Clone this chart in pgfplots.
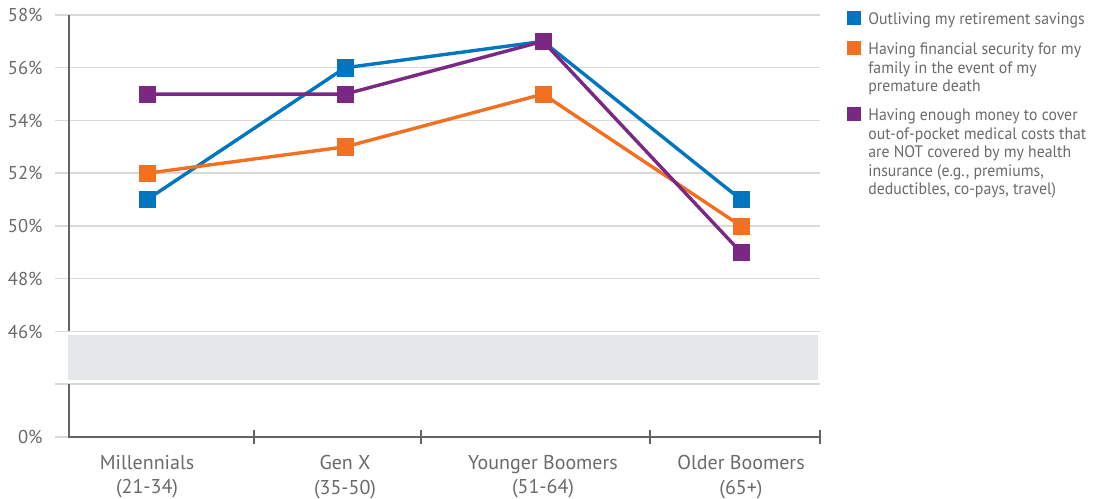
\documentclass[border=0pt]{standalone}
\usepackage{pgfplots}
\pgfplotsset{compat=1.18}
\usepackage{fontspec}
\setmainfont{PT Sans}
\newfontfamily\legfont[FakeStretch=0.95]{PT Sans}
\definecolor{cblue}{RGB}{0,118,192}
\definecolor{corange}{RGB}{243,112,33}
\definecolor{cpurple}{RGB}{122,40,132}
\definecolor{gridgray}{RGB}{217,217,217}
\definecolor{bandgray}{RGB}{230,231,232}
\definecolor{axgray}{RGB}{100,100,102}
\definecolor{labgray}{RGB}{105,106,108}
\begin{document}
\begin{tikzpicture}
% pixel frame of the reference: 1px = 0.5pt, y downwards
\begin{scope}[shift={(-27.5pt,218.5pt)},x=0.5pt,y=-0.5pt]
\useasboundingbox (0,0) rectangle (1100,498);
\end{scope}
\begin{axis}[
  at={(0,0)}, anchor=south west,
  width=382.5pt, height=211pt, scale only axis,
  xmin=-0.465, xmax=3.399,
  ymin=42, ymax=58,
  clip=false,
  axis line style={draw=none},
  major tick length=0pt,
  ytick={42,44,...,58},
  yticklabels={0\%,{},46\%,48\%,50\%,52\%,54\%,56\%,58\%},
  ymajorgrids=true,
  grid style={color=gridgray, line width=0.75pt},
  xtick={0,1,2,3},
  xticklabels={{Millennials\\(21-34)},{Gen X\\(35-50)},{Younger Boomers\\(51-64)},{Older Boomers\\(65+)}},
  tick label style={text=labgray},
  yticklabel style={font=\fontsize{9.3}{11}\selectfont, inner sep=0pt, xshift=-6pt},
  xticklabel style={font=\fontsize{10}{12.2}\selectfont, align=center, inner sep=0pt, yshift=-9pt},
]
% broken axis band
\fill[bandgray] (axis cs:-0.399,44.16) rectangle (axis cs:3.389,45.87);
% axis lines
\draw[axgray, line width=1.2pt] (axis cs:-0.394,58) -- (axis cs:-0.394,46);
\draw[axgray, line width=1.2pt] (axis cs:-0.394,44) -- (axis cs:-0.394,42) -- (axis cs:3.399,42);
\pgfplotsinvokeforeach{0.540,1.384,2.540,3.399}{
  \draw[axgray, line width=0.6pt] (axis cs:#1,41.72) -- (axis cs:#1,42.28);
}

\addplot[cblue, line width=1.7pt, mark=square*, mark size=4.05pt, mark options={line width=0.3pt}]
  coordinates {(0,51)(1,56)(2,57)(3,51)};
\addplot[corange, line width=1.7pt, mark=square*, mark size=4.05pt, mark options={line width=0.3pt}]
  coordinates {(0,52)(1,53)(2,55)(3,50)};
\addplot[cpurple, line width=1.7pt, mark=square*, mark size=4.05pt, mark options={line width=0.3pt}]
  coordinates {(0,55)(1,55)(2,57)(3,49)};
\end{axis}
% legend
\begin{scope}[shift={(-27.5pt,218.5pt)},x=0.5pt,y=-0.5pt,
  every node/.style={anchor=base west, inner sep=0pt, text=labgray, font=\legfont\fontsize{8.3}{9}\selectfont}]
\fill[cblue] (847,11) rectangle (861,25);
\node at (868,25) {Outliving my retirement savings};
\fill[corange] (847,41) rectangle (861,55);
\node at (868,55) {Having financial security for my};
\node at (868,73.5) {family in the event of my};
\node at (868,92) {premature death};
\fill[cpurple] (847,107) rectangle (861,121);
\node at (868,121) {Having enough money to cover};
\node at (868,139.5) {out-of-pocket medical costs that};
\node at (868,158) {are NOT covered by my health};
\node at (868,176.5) {insurance (e.g., premiums,};
\node at (868,195) {deductibles, co-pays, travel)};
\end{scope}
\end{tikzpicture}
\end{document}
